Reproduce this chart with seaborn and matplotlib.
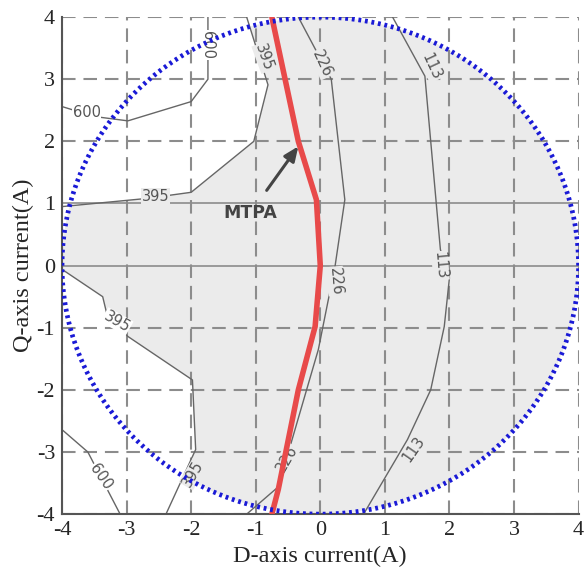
import numpy as np
import pandas as pd
import matplotlib
matplotlib.use("Agg")
import matplotlib.pyplot as plt
import seaborn as sns
from matplotlib.patches import Circle, Polygon

sns.set_style("white")
plt.rcParams['font.family'] = ['Liberation Serif', 'DejaVu Serif']
plt.rcParams['axes.unicode_minus'] = False

# contour 600 (upper)
c600u_d = [-4.0, -3.5, -2.98, -2.0, -1.74, -1.74]
c600u_q = [2.56, 2.40, 2.33, 2.64, 3.0, 4.0]
# contour 600 (lower)
c600l_d = [-4.0, -3.6, -3.1]
c600l_q = [-2.64, -3.0, -4.0]
# contour 395 (upper)
c395u_d = [-1.14, -0.81, -1.03, -2.0, -2.7, -3.0, -4.0]
c395u_q = [4.0, 2.91, 2.0, 1.18, 1.08, 1.05, 0.95]
# contour 395 (lower)
c395l_d = [-4.0, -3.37, -3.31, -2.98, -1.98, -1.93, -2.39]
c395l_q = [-0.06, -0.5, -0.76, -1.14, -1.84, -2.96, -4.0]
# contour 226
c226_d = [-0.34, 0.17, 0.38, 0.23, -0.03, -0.65, -1.14]
c226_q = [4.0, 3.0, 1.06, 0.0, -1.35, -3.56, -4.0]
# contour 113
c113_d = [1.12, 1.62, 1.86, 2.0, 1.92, 1.71, 1.35, 0.71, 0.67]
c113_q = [4.0, 3.05, 0.26, -0.2, -0.98, -2.0, -2.8, -3.93, -4.0]
# MTPA trajectory
mtpa_d = [-0.75, -0.34, -0.06, 0.0, -0.08, -0.34, -0.65, -0.75]
mtpa_q = [4.0, 2.0, 1.06, 0.0, -0.98, -2.0, -3.6, -4.0]

ticks = [-4, -3, -2, -1, 0, 1, 2, 3, 4]
radius = 4.0

fig = plt.figure(figsize=(5.85, 5.7), dpi=100)
ax = fig.add_axes([0.106, 0.098, 0.883, 0.872])
ax.set_xlim(-4, 4)
ax.set_ylim(-4, 4)

# gray region: inside circle and right of 395 contour
poly_pts = list(zip(c395u_d, c395u_q)) + [(-4.5, 0.95), (-4.5, -0.06)] + \
    list(zip(c395l_d, c395l_q)) + [(-2.39, -5), (5, -5), (5, 5), (-1.14, 5)]
poly = Polygon(poly_pts, closed=True, facecolor='#ebebeb', edgecolor='none', zorder=0)
ax.add_patch(poly)
clip = Circle((0, 0), radius, transform=ax.transData)
poly.set_clip_path(clip)

# grid
dash = (0, (6.5, 3.8))
for t in ticks:
    ax.axvline(t, color='#8c8c8c', lw=1.5, ls=dash, zorder=1)
    if t in (0, 1):
        ax.axhline(t, color='#8c8c8c', lw=1.2, zorder=1)
    else:
        ax.axhline(t, color='#8c8c8c', lw=1.5, ls=dash, zorder=1)

# contour lines
for dd, qq in [(c600u_d, c600u_q), (c600l_d, c600l_q), (c395u_d, c395u_q),
               (c395l_d, c395l_q), (c226_d, c226_q), (c113_d, c113_q)]:
    df = pd.DataFrame({'d': dd, 'q': qq})
    sns.lineplot(data=df, x='d', y='q', sort=False, estimator=None, ax=ax,
                 color='#666666', lw=1.0, zorder=2)

# labels
labels = [
    ('600', -3.62, 2.47, 0, 'white'),
    ('600', -1.74, 3.55, -90, 'white'),
    ('395', -2.55, 1.12, 0, '#ebebeb'),
    ('395', -0.87, 3.35, -70, '#ebebeb'),
    ('395', -3.15, -0.9, -30, 'white'),
    ('395', -1.97, -3.35, 60, '#ebebeb'),
    ('600', -3.4, -3.4, -55, 'white'),
    ('226', 0.03, 3.25, -65, '#ebebeb'),
    ('226', 0.24, -0.25, -85, '#ebebeb'),
    ('226', -0.52, -3.1, 60, '#ebebeb'),
    ('113', 1.72, 3.2, -65, '#ebebeb'),
    ('113', 1.86, 0.0, -85, '#ebebeb'),
    ('113', 1.45, -2.95, 55, '#ebebeb'),
]
for s, x, y, rot, bg in labels:
    ax.text(x, y, s, rotation=rot, ha='center', va='center', fontsize=10.5,
            color='#555555', family=['DejaVu Sans'], zorder=3,
            bbox=dict(boxstyle='square,pad=0.05', fc=bg, ec='none'))

# MTPA line
dfm = pd.DataFrame({'d': mtpa_d, 'q': mtpa_q})
sns.lineplot(data=dfm, x='d', y='q', sort=False, estimator=None, ax=ax,
             color='#e84a4a', lw=4, zorder=4)

# circle
th = np.linspace(0, 2 * np.pi, 400)
dfc = pd.DataFrame({'d': radius * np.cos(th), 'q': radius * np.sin(th)})
sns.lineplot(data=dfc, x='d', y='q', sort=False, estimator=None, ax=ax,
             color='#1a1ad6', lw=3.4, ls=(0, (0.6, 0.8)), zorder=5)

ax.annotate('MTPA', xy=(-0.34, 1.92), xytext=(-1.08, 0.85),
            ha='center', va='center', fontsize=12.5, fontweight='bold',
            color='#444444', family=['DejaVu Sans'], zorder=6,
            arrowprops=dict(arrowstyle='-|>,head_length=0.7,head_width=0.3',
                            color='#444444', lw=2.2, shrinkA=9, shrinkB=0))

ax.set_xticks(ticks)
ax.set_yticks(ticks)
ax.tick_params(labelsize=16, length=0, pad=5)
for sp in ['top', 'right']:
    ax.spines[sp].set_visible(False)
for sp in ['left', 'bottom']:
    ax.spines[sp].set_color('#555555')
    ax.spines[sp].set_linewidth(1.5)
ax.set_xlabel('D-axis current(A)', fontsize=17.5, labelpad=4)
ax.set_ylabel('Q-axis current(A)', fontsize=17.5, labelpad=2)

fig.savefig('out.png', dpi=100)
